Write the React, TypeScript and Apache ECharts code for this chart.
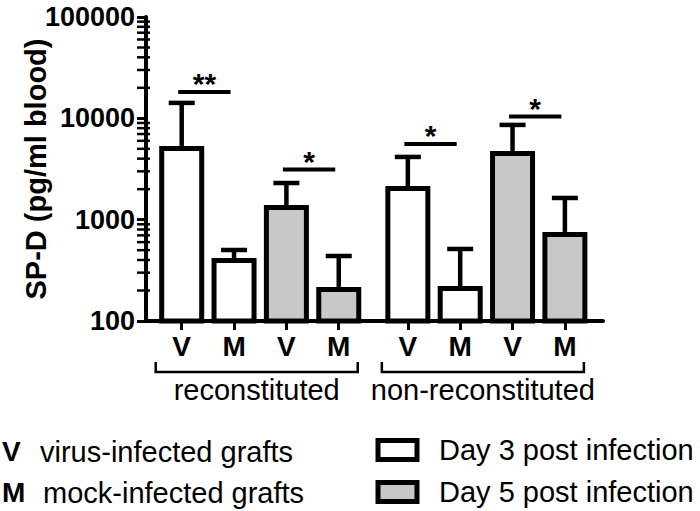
import React, { useEffect, useRef } from "react";
import * as echarts from "echarts";

const FONT = "'Liberation Sans', Arial, sans-serif";

const groups = ["reconstituted", "non-reconstituted"];
const conditionLabels = ["V", "M", "V", "M"];
const seriesNames = ["Day 3 post infection", "Day 5 post infection"];
// within each group: V day 3, M day 3, V day 5, M day 5
const barDay = [0, 0, 1, 1];
const meanReconstituted = [5340, 419, 1397, 217];
const upperReconstituted = [14200, 502, 2300, 438];
const meanNonReconstituted = [2150, 221, 4770, 757];
const upperNonReconstituted = [4160, 514, 8610, 1637];

const yTicks = [100, 1000, 10000, 100000];
const minorTicks = [
  200, 300, 400, 500, 600, 700, 800, 900,
  2000, 3000, 4000, 5000, 6000, 7000, 8000, 9000,
  20000, 30000, 40000, 50000, 60000, 70000, 80000, 90000,
];

const sigGroup = [0, 0, 1, 1];
const sigFrom = [0, 2, 0, 2];
const sigTo = [1, 3, 1, 3];
const sigY = [18200, 3130, 5590, 10440];
const sigLabel = ["**", "*", "*", "*"];

const keyLetters = ["V", "M"];
const keyTexts = ["virus-infected grafts", "mock-infected grafts"];

const GROUP_OFFSET = 4.32;
const X_MIN = 0.318;
const X_MAX = 9.048;

const means = [meanReconstituted, meanNonReconstituted];
const uppers = [upperReconstituted, upperNonReconstituted];
const pos = (g: number, b: number) => 1 + g * GROUP_OFFSET + b;

const barPositions: number[] = [];
const barLabels: string[] = [];
groups.forEach((_, g) =>
  conditionLabels.forEach((c, b) => {
    barPositions.push(pos(g, b));
    barLabels.push(c);
  })
);

export default function App() {
  const ref = useRef<HTMLDivElement>(null);
  useEffect(() => {
    if (!ref.current) return;
    const chart = echarts.init(ref.current, undefined, { renderer: "svg" });

    const dayData = [0, 1].map((d) => {
      const arr: number[][] = [];
      groups.forEach((_, g) =>
        barDay.forEach((bd, b) => {
          if (bd === d) arr.push([pos(g, b), means[g][b]]);
        })
      );
      return arr;
    });
    const errData: number[][] = [];
    groups.forEach((_, g) =>
      barDay.forEach((_, b) => errData.push([pos(g, b), means[g][b], uppers[g][b]]))
    );
    const sigData = sigGroup.map((g, i) => [pos(g, sigFrom[i]), pos(g, sigTo[i]), sigY[i]]);
    const bracketData = groups.map((_, g) => [pos(g, 0), pos(g, 3)]);
    const minorData = minorTicks.map((v) => [X_MIN, v]);

    const option: any = {
      animation: false,
      grid: { left: 146, right: 97, top: 17, bottom: 190, containLabel: false, outerBoundsMode: "none" },
      legend: {
        data: seriesNames,
        orient: "vertical",
        left: 375.5,
        top: 435.5,
        padding: 0,
        itemGap: 13,
        itemWidth: 39,
        itemHeight: 19,
        icon: "rect",
        selectedMode: false,
        itemStyle: { borderWidth: 5, borderColor: "#000" },
        textStyle: { fontFamily: FONT, fontSize: 29, color: "#000", padding: [0, 0, 0, 17] },
      },
      xAxis: {
        type: "value",
        min: X_MIN,
        max: X_MAX,
        axisLine: { show: true, onZero: false, lineStyle: { color: "#000", width: 4 } },
        axisTick: { show: true, customValues: barPositions, length: 9, lineStyle: { color: "#000", width: 3 } },
        axisLabel: {
          customValues: barPositions,
          margin: 11,
          fontFamily: FONT,
          fontWeight: "bold",
          fontSize: 28,
          color: "#000",
          formatter: (v: number) => {
            const i = barPositions.findIndex((p) => Math.abs(p - v) < 1e-6);
            return i >= 0 ? barLabels[i] : "";
          },
        },
        splitLine: { show: false },
      },
      yAxis: {
        type: "log",
        logBase: 10,
        min: yTicks[0],
        max: yTicks[yTicks.length - 1],
        position: "left",
        axisLine: { show: true, lineStyle: { color: "#000", width: 4 } },
        axisTick: { show: true, length: 9, lineStyle: { color: "#000", width: 3 } },
        axisLabel: {
          margin: 11,
          fontFamily: FONT,
          fontWeight: "bold",
          fontSize: 27,
          color: "#000",
          formatter: (v: number) => String(Math.round(v)),
        },
        splitLine: { show: false },
        minorTick: { show: false },
        name: "SP-D (pg/ml blood)",
        nameLocation: "middle",
        nameGap: 96,
        nameMoveOverlap: false,
        nameTextStyle: { fontFamily: FONT, fontWeight: "bold", fontSize: 29, color: "#000" },
      },
      graphic: keyLetters.flatMap((l, i) => [
        {
          type: "text",
          left: 2,
          top: 437 + i * 41,
          style: { text: l, fontFamily: FONT, fontWeight: "bold", fontSize: 28, fill: "#000" },
        },
        {
          type: "text",
          left: 40 + i * 3,
          top: 437 + i * 41,
          style: { text: keyTexts[i], fontFamily: FONT, fontSize: 29, fill: "#000" },
        },
      ]),
      series: [
        ...[0, 1].map((d) => ({
          type: "bar",
          name: seriesNames[d],
          data: dayData[d],
          barWidth: 45,
          barGap: "-100%",
          clip: true,
          z: 2,
          itemStyle: { color: d === 0 ? "#ffffff" : "#c8c8c8", borderColor: "#000", borderWidth: 5 },
        })),
        {
          type: "custom",
          name: "minor ticks",
          data: minorData,
          encode: { x: 0, y: 1 },
          z: 5,
          clip: false,
          renderItem: (params: any, api: any) => {
            const p = api.coord([api.value(0), api.value(1)]);
            return {
              type: "line",
              shape: { x1: p[0] - 9, y1: p[1], x2: p[0] + 4, y2: p[1] },
              style: { stroke: "#000", lineWidth: 2.5 },
            };
          },
        },
        {
          type: "custom",
          name: "error",
          data: errData,
          encode: { x: 0, y: [1, 2] },
          z: 4,
          clip: false,
          renderItem: (params: any, api: any) => {
            const x = api.value(0);
            const top = api.coord([x, api.value(1)]);
            const up = api.coord([x, api.value(2)]);
            const st = { stroke: "#000", lineWidth: 4.5 };
            return {
              type: "group",
              children: [
                { type: "line", shape: { x1: top[0], y1: top[1], x2: up[0], y2: up[1] }, style: st },
                { type: "line", shape: { x1: up[0] - 13, y1: up[1], x2: up[0] + 13, y2: up[1] }, style: st },
              ],
            };
          },
        },
        {
          type: "custom",
          name: "significance",
          data: sigData,
          encode: { x: [0, 1], y: 2 },
          z: 3,
          clip: false,
          renderItem: (params: any, api: any) => {
            const a = api.coord([api.value(0), api.value(2)]);
            const b = api.coord([api.value(1), api.value(2)]);
            const x1 = a[0] - 3.5;
            const x2 = b[0] - 3.5;
            return {
              type: "group",
              children: [
                { type: "line", shape: { x1, y1: a[1], x2, y2: a[1] }, style: { stroke: "#000", lineWidth: 4 } },
                {
                  type: "text",
                  x: (x1 + x2) / 2,
                  y: a[1] - 8,
                  style: {
                    text: sigLabel[params.dataIndex],
                    fontFamily: FONT,
                    fontWeight: "bold",
                    fontSize: 30,
                    fill: "#000",
                    align: "center",
                    verticalAlign: "middle",
                  },
                },
              ],
            };
          },
        },
        {
          type: "custom",
          name: "groups",
          data: bracketData,
          encode: { x: [0, 1] },
          z: 3,
          clip: false,
          renderItem: (params: any, api: any) => {
            const l = api.coord([api.value(0), yTicks[0]]);
            const r = api.coord([api.value(1), yTicks[0]]);
            const base = l[1];
            const xl = l[0] - 26;
            const xr = r[0] + 19;
            return {
              type: "group",
              children: [
                {
                  type: "polyline",
                  shape: { points: [[xl, base + 41], [xl, base + 51], [xr, base + 51], [xr, base + 41]] },
                  style: { stroke: "#000", lineWidth: 2.5, fill: "none" },
                },
                {
                  type: "text",
                  x: (xl + xr) / 2,
                  y: base + 69,
                  style: {
                    text: groups[params.dataIndex],
                    fontFamily: FONT,
                    fontSize: 29,
                    fill: "#000",
                    align: "center",
                    verticalAlign: "middle",
                  },
                },
              ],
            };
          },
        },
      ],
    };
    chart.setOption(option);
    return () => chart.dispose();
  }, []);
  return (
    <div
      ref={ref}
      style={{ position: "fixed", left: 0, top: 0, width: 700, height: 511, background: "#fff" }}
    />
  );
}
